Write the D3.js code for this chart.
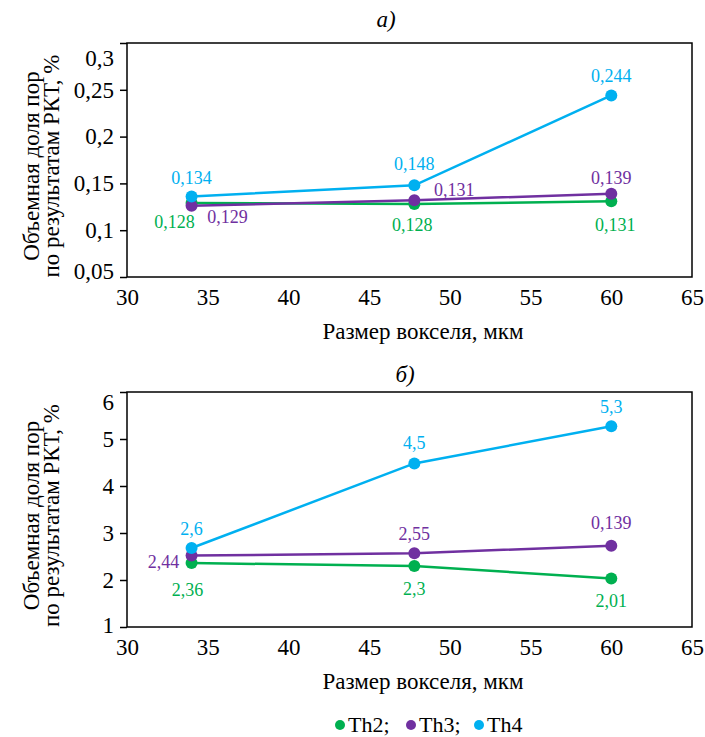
<!DOCTYPE html>
<html>
<head>
<meta charset="utf-8">
<script src="https://cdn.jsdelivr.net/npm/d3@7"></script>
<style>
  body { margin: 0; background: #fff; }
</style>
</head>
<body>
<svg id="chart" width="705" height="737" font-family="Times New Roman, serif"></svg>
<script>
// Data
var voxelSize = [34, 47.8, 60];
var xTicks = [30, 35, 40, 45, 50, 55, 60, 65];
var seriesNames = ["Th2", "Th3", "Th4"];
var seriesColors = ["#00b050", "#7030a0", "#00b0f0"];

// panel а) values
var poreA_Th2 = [0.129, 0.128, 0.131];
var poreA_Th3 = [0.126, 0.132, 0.139];
var poreA_Th4 = [0.136, 0.148, 0.244];
var labelA_Th2 = ["0,128", "0,128", "0,131"];
var labelA_Th3 = ["0,129", "0,131", "0,139"];
var labelA_Th4 = ["0,134", "0,148", "0,244"];
var yTicksA = [0.05, 0.1, 0.15, 0.2, 0.25, 0.3];
var yTickLabelsA = ["0,05", "0,1", "0,15", "0,2", "0,25", "0,3"];

// panel б) values
var poreB_Th2 = [2.36, 2.30, 2.03];
var poreB_Th3 = [2.52, 2.57, 2.73];
var poreB_Th4 = [2.68, 4.48, 5.27];
var labelB_Th2 = ["2,36", "2,3", "2,01"];
var labelB_Th3 = ["2,44", "2,55", "0,139"];
var labelB_Th4 = ["2,6", "4,5", "5,3"];
var yTicksB = [1, 2, 3, 4, 5, 6];
var yTickLabelsB = ["1", "2", "3", "4", "5", "6"];

// label offsets (layout only)
var offsA = [
  [[-17, 19], [-2, 21], [4, 24]],
  [[36, 11], [40, -11], [0, -16]],
  [[0, -19], [0, -22], [0, -20]]
];
var offsB = [
  [[-4, 27], [0, 23], [0, 22]],
  [[-28, 6], [0, -20], [0, -23]],
  [[0, -19], [0, -21], [0, -20]]
];

var FONT = "Times New Roman, serif";
var svg = d3.select("#chart");

var plotLeft = 127, plotRight = 692;

function addText(parent, x, y, size, str) {
  return parent.append("text")
      .attr("font-family", FONT)
      .attr("font-size", size)
      .attr("x", x)
      .attr("y", y)
      .text(str);
}

function drawPanel(opt) {
  var xScale = d3.scaleLinear().domain([30, 65]).range([plotLeft, plotRight]);
  var yScale = d3.scaleLinear().domain(opt.yDomain).range([opt.bottom, opt.top]);

  // title
  addText(svg, opt.titleX, opt.titleY, 23, opt.title)
      .attr("text-anchor", "middle")
      .style("font-style", "italic");

  // y axis
  var yAxis = d3.axisLeft(yScale)
      .tickValues(opt.yTicks)
      .tickSize(7)
      .tickFormat(function (d, i) { return opt.yTickLabels[i]; });
  var gy = svg.append("g")
      .attr("transform", "translate(" + plotLeft + ",0)")
      .call(yAxis)
      .attr("font-family", FONT)
      .attr("font-size", 23);
  gy.select(".domain").remove();
  gy.selectAll(".tick line").attr("stroke", "#000").attr("stroke-width", 1.5);
  gy.selectAll(".tick text")
      .attr("x", -13)
      .attr("fill", "#000")
      .attr("dy", function (d, i) {
        if (i === opt.yTicks.length - 1) return opt.lastDy;
        if (i === 0) return opt.firstDy;
        return "0.32em";
      });

  // x axis (labels only)
  var xAxis = d3.axisBottom(xScale).tickValues(xTicks).tickSize(0).tickPadding(12);
  var gx = svg.append("g")
      .attr("transform", "translate(0," + opt.bottom + ")")
      .call(xAxis)
      .attr("font-family", FONT)
      .attr("font-size", 23);
  gx.select(".domain").remove();
  gx.selectAll(".tick text").attr("fill", "#000");

  // frame
  svg.append("rect")
      .attr("x", plotLeft)
      .attr("y", opt.top)
      .attr("width", plotRight - plotLeft)
      .attr("height", opt.bottom - opt.top)
      .attr("fill", "none")
      .attr("stroke", "#000")
      .attr("stroke-width", 1.5);

  // axis titles
  addText(svg, 423, opt.bottom + 62, 23, "Размер вокселя, мкм")
      .attr("text-anchor", "middle");

  var cy = (opt.top + opt.bottom) / 2 + 6;
  addText(svg, 0, 0, 23, "Объемная доля пор")
      .attr("transform", "translate(39," + cy + ") rotate(-90)")
      .attr("text-anchor", "middle");
  addText(svg, 0, 0, 23, "по результатам РКТ, %")
      .attr("transform", "translate(59," + cy + ") rotate(-90)")
      .attr("text-anchor", "middle");

  var line = d3.line()
      .x(function (d, i) { return xScale(voxelSize[i]); })
      .y(function (d) { return yScale(d); });

  opt.series.forEach(function (vals, s) {
    svg.append("path")
        .datum(vals)
        .attr("d", line)
        .attr("fill", "none")
        .attr("stroke", seriesColors[s])
        .attr("stroke-width", 2.5);
  });
  opt.series.forEach(function (vals, s) {
    svg.selectAll(null)
        .data(vals)
        .enter().append("circle")
        .attr("cx", function (d, i) { return xScale(voxelSize[i]); })
        .attr("cy", function (d) { return yScale(d); })
        .attr("r", 6)
        .attr("fill", seriesColors[s]);
    svg.selectAll(null)
        .data(vals)
        .enter().append("text")
        .attr("font-family", FONT)
        .attr("font-size", 18)
        .attr("x", function (d, i) { return xScale(voxelSize[i]) + opt.offs[s][i][0]; })
        .attr("y", function (d, i) { return yScale(d) + opt.offs[s][i][1]; })
        .attr("dy", "0.35em")
        .attr("text-anchor", "middle")
        .attr("fill", seriesColors[s])
        .text(function (d, i) { return opt.labels[s][i]; });
  });
}

drawPanel({
  title: "а)", titleX: 386, titleY: 27,
  top: 43, bottom: 277, yDomain: [0.05, 0.3],
  yTicks: yTicksA, yTickLabels: yTickLabelsA, firstDy: "0.05em", lastDy: "0.96em",
  series: [poreA_Th2, poreA_Th3, poreA_Th4],
  labels: [labelA_Th2, labelA_Th3, labelA_Th4],
  offs: offsA
});

drawPanel({
  title: "б)", titleX: 405, titleY: 382,
  top: 392, bottom: 627, yDomain: [1, 6],
  yTicks: yTicksB, yTickLabels: yTickLabelsB, firstDy: "0.26em", lastDy: "0.78em",
  series: [poreB_Th2, poreB_Th3, poreB_Th4],
  labels: [labelB_Th2, labelB_Th3, labelB_Th4],
  offs: offsB
});

// legend
var legendX = [340, 411, 479];
var legendText = ["Th2;", "Th3;", "Th4"];
var legend = svg.append("g");
seriesNames.forEach(function (name, i) {
  legend.append("circle")
      .attr("cx", legendX[i])
      .attr("cy", 725)
      .attr("r", 5)
      .attr("fill", seriesColors[i]);
  addText(legend, legendX[i] + 8, 725, 22, legendText[i])
      .attr("dy", "0.33em");
});
</script>
</body>
</html>
